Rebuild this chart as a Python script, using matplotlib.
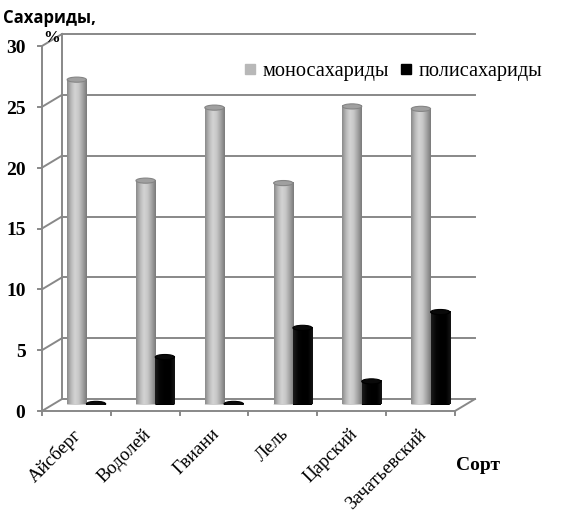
import numpy as np
import matplotlib.pyplot as plt
from matplotlib.patches import Ellipse
from matplotlib.colors import LinearSegmentedColormap
from matplotlib.lines import Line2D

varieties = ['Айсберг', 'Водолей', 'Гвиани', 'Лель', 'Царский', 'Зачатьевский']
mono = [26.7, 18.4, 24.4, 18.2, 24.5, 24.3]
poly = [0.05, 3.9, 0.05, 6.3, 1.9, 7.6]
yticks = [0, 5, 10, 15, 20, 25, 30]
series_names = ['моносахариды', 'полисахариды']

W, H = 567, 516
fig = plt.figure(figsize=(W / 100, H / 100), dpi=100)
ax = fig.add_axes([52 / W, 1 - 404.5 / H, 413 / W, 365 / H])
ax.set_xlim(0, 6)
ax.set_ylim(0, 30)
ax.axis('off')

serif = 'Liberation Serif'
gc = '#888888'
lw = 1.4
# depth offsets (back wall / front axis) in data units
DX = 10 / (413 / 6)
DYB = 5.5 / (365 / 30)
DYF = 6.5 / (365 / 30)

# back wall gridlines + left wall edge
for t in yticks:
    ax.plot([DX, 6 + DX], [t + DYB, t + DYB], color=gc, lw=lw, clip_on=False, zorder=1)
    ax.plot([-DX, DX], [t - DYF, t + DYB], color=gc, lw=lw, clip_on=False, zorder=1)
    ax.plot([-DX - 0.06, -DX], [t - DYF, t - DYF], color=gc, lw=lw, clip_on=False)
    ax.text(-DX - 0.24, t - DYF - 0.2, str(t), ha='right', va='center',
            family=serif, weight='bold', fontsize=14)
ax.plot([DX, DX], [DYB, 30 + DYB], color=gc, lw=lw, clip_on=False, zorder=1)
# front axes / floor
ax.plot([-DX, -DX], [-DYF, 30 - DYF], color=gc, lw=lw, clip_on=False, zorder=1)
ax.plot([-DX, 6 - DX], [-DYF, -DYF], color=gc, lw=lw, clip_on=False, zorder=1)
ax.plot([6 - DX, 6 + DX], [-DYF, DYB], color=gc, lw=lw, clip_on=False, zorder=1)
for i in range(len(varieties) + 1):
    ax.plot([i - DX, i - DX], [-DYF, -DYF - 0.35], color=gc, lw=lw, clip_on=False)

gray_cm = LinearSegmentedColormap.from_list('g', ['#8a8a8a', '#b8b8b8', '#d4d4d4', '#c6c6c6', '#a2a2a2', '#7a7a7a'])
black_cm = LinearSegmentedColormap.from_list('b', ['#1c1c1c', '#050505', '#000000', '#000000', '#151515'])
grad = np.linspace(0, 1, 64).reshape(1, -1)
eh = 0.42
w = 0.28
x = np.arange(len(varieties))

def cylinders(xc, vals, cmap, top_c, edge_c):
    bars = ax.bar(xc, vals, width=w, color='none', edgecolor='none', zorder=3)
    for b in bars:
        x0, bw, bh = b.get_x(), b.get_width(), b.get_height()
        cx = x0 + bw / 2
        ax.add_patch(Ellipse((cx, 0), bw, eh, fc=cmap(0.5), ec='none', zorder=2))
        ax.imshow(grad, extent=[x0, x0 + bw, 0, bh], aspect='auto', cmap=cmap,
                  interpolation='bicubic', zorder=3)
        ax.add_patch(Ellipse((cx, bh), bw, eh, fc=top_c, ec=edge_c, lw=0.8, zorder=4))

cylinders(x + 0.36, mono, gray_cm, '#a0a0a0', '#858585')
cylinders(x + 0.64, poly, black_cm, '#0a0a0a', '#000000')
ax.set_xlim(0, 6)
ax.set_ylim(0, 30)

for i, name in enumerate(varieties):
    ax.text(i + 0.63 - DX, -DYF - 1.2, name, rotation=45, ha='right', va='top',
            family=serif, fontsize=13.5)

handles = [Line2D([], [], marker='s', ls='', color='#b8b8b8', markersize=7, label=series_names[0]),
           Line2D([], [], marker='s', ls='', color='#000000', markersize=7, label=series_names[1])]
fig.legend(handles=handles, loc='center left', bbox_to_anchor=(244 / W, 1 - 71 / H), ncol=2,
           frameon=False, handlelength=0.6, handletextpad=0.3, columnspacing=0.55,
           prop={'family': serif, 'size': 14.6}, borderaxespad=0, borderpad=0)

fig.text(3 / W, 1 - 18 / H, 'Сахариды,', va='center', ha='left', family='Open Sans',
         weight='bold', fontsize=12)
fig.text(43 / W, 1 - 38 / H, '%', va='center', ha='left', family=serif, weight='bold', fontsize=12)
fig.text(478 / W, 1 - 466 / H, 'Сорт', va='center', ha='center', family=serif, weight='bold', fontsize=14)

fig.savefig('out.png', dpi=100, facecolor='white')
